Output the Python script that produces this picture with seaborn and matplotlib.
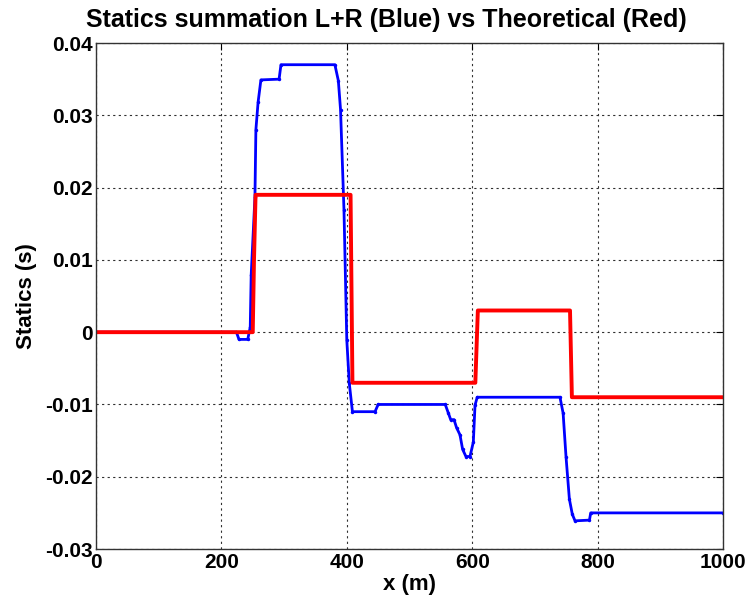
import matplotlib
matplotlib.use("Agg")
import matplotlib.pyplot as plt
import seaborn as sns
import pandas as pd

# ---- data ----
blue_x = [0, 224, 228, 242, 246, 247.5, 253.5, 255, 258.5, 263, 292, 295, 381,
          386.5, 390, 395.5, 400, 404, 409, 445, 450, 557, 562, 565.7, 571, 575,
          580.5, 584.7, 590, 596.5, 601.8, 604.5, 608, 740, 745, 749.6, 755,
          759.7, 764, 787, 789, 1000]
blue_y = [0, 0, -0.001, -0.001, 0.0007, 0.0079, 0.0187, 0.028, 0.0318, 0.0349,
          0.035, 0.037, 0.037, 0.0348, 0.0308, 0.0169, -0.0011, -0.0071, -0.011,
          -0.011, -0.010, -0.010, -0.0112, -0.0121, -0.0121, -0.0132, -0.0142,
          -0.0162, -0.0172, -0.0172, -0.0152, -0.0101, -0.009, -0.009, -0.0112,
          -0.0172, -0.0231, -0.0252, -0.0261, -0.026, -0.025, -0.025]

red_x = [0, 250, 252, 254.5, 406, 407.5, 409, 605, 607, 609, 756, 757.5, 759, 1000]
red_y = [0, 0, 0.01, 0.019, 0.019, 0.006, -0.007, -0.007, -0.002, 0.003, 0.003,
         -0.003, -0.009, -0.009]

x_ticks = [0, 200, 400, 600, 800, 1000]
y_ticks = [-0.03, -0.02, -0.01, 0, 0.01, 0.02, 0.03, 0.04]
y_tick_labels = ["-0.03", "-0.02", "-0.01", "0", "0.01", "0.02", "0.03", "0.04"]

title = "Statics summation L+R (Blue) vs Theoretical (Red)"
xlabel = "x (m)"
ylabel = "Statics (s)"

sns.set_style("white")
plt.rcParams['font.family'] = ['Liberation Sans', 'DejaVu Sans']
plt.rcParams['font.weight'] = 'bold'
plt.rcParams['text.color'] = 'black'
plt.rcParams['axes.labelcolor'] = 'black'
plt.rcParams['xtick.color'] = 'black'
plt.rcParams['ytick.color'] = 'black'

fig = plt.figure(figsize=(7.5, 6.06), dpi=100)
ax = fig.add_axes([0.128, 0.094, 0.836, 0.835])

blue_df = pd.DataFrame({"x": blue_x, "y": blue_y})
red_df = pd.DataFrame({"x": red_x, "y": red_y})

sns.lineplot(data=blue_df, x="x", y="y", ax=ax, color="#0000ff", linewidth=2,
             marker=".", markersize=5, markeredgewidth=0, estimator=None, sort=False)
sns.lineplot(data=red_df, x="x", y="y", ax=ax, color="#ff0000", linewidth=2.8,
             estimator=None, sort=False)

ax.set_xlim(0, 1000)
ax.set_ylim(-0.03, 0.04)
ax.set_xticks(x_ticks)
ax.set_xticklabels([str(t) for t in x_ticks])
ax.set_yticks(y_ticks)
ax.set_yticklabels(y_tick_labels)

ax.grid(True, color="#303030", linestyle=(0, (2, 3)), linewidth=0.8)
ax.set_axisbelow(True)
ax.tick_params(direction="in", top=True, right=True, length=5, width=0.8,
               labelsize=15, colors="black")
ax.tick_params(axis="y", pad=2)
ax.tick_params(axis="x", pad=3)
for lab in ax.get_xticklabels() + ax.get_yticklabels():
    lab.set_fontweight("bold")
for s in ax.spines.values():
    s.set_color("#333333")
    s.set_linewidth(1)

fig.text(0.515, 0.955, title, fontsize=18, fontweight="bold", color="black",
         ha="center", va="baseline")
ax.set_xlabel(xlabel, fontsize=16, fontweight="bold", labelpad=1, color="black")
ax.set_ylabel(ylabel, fontsize=16, fontweight="bold", labelpad=6, color="black")

fig.savefig("out.png", dpi=100)
